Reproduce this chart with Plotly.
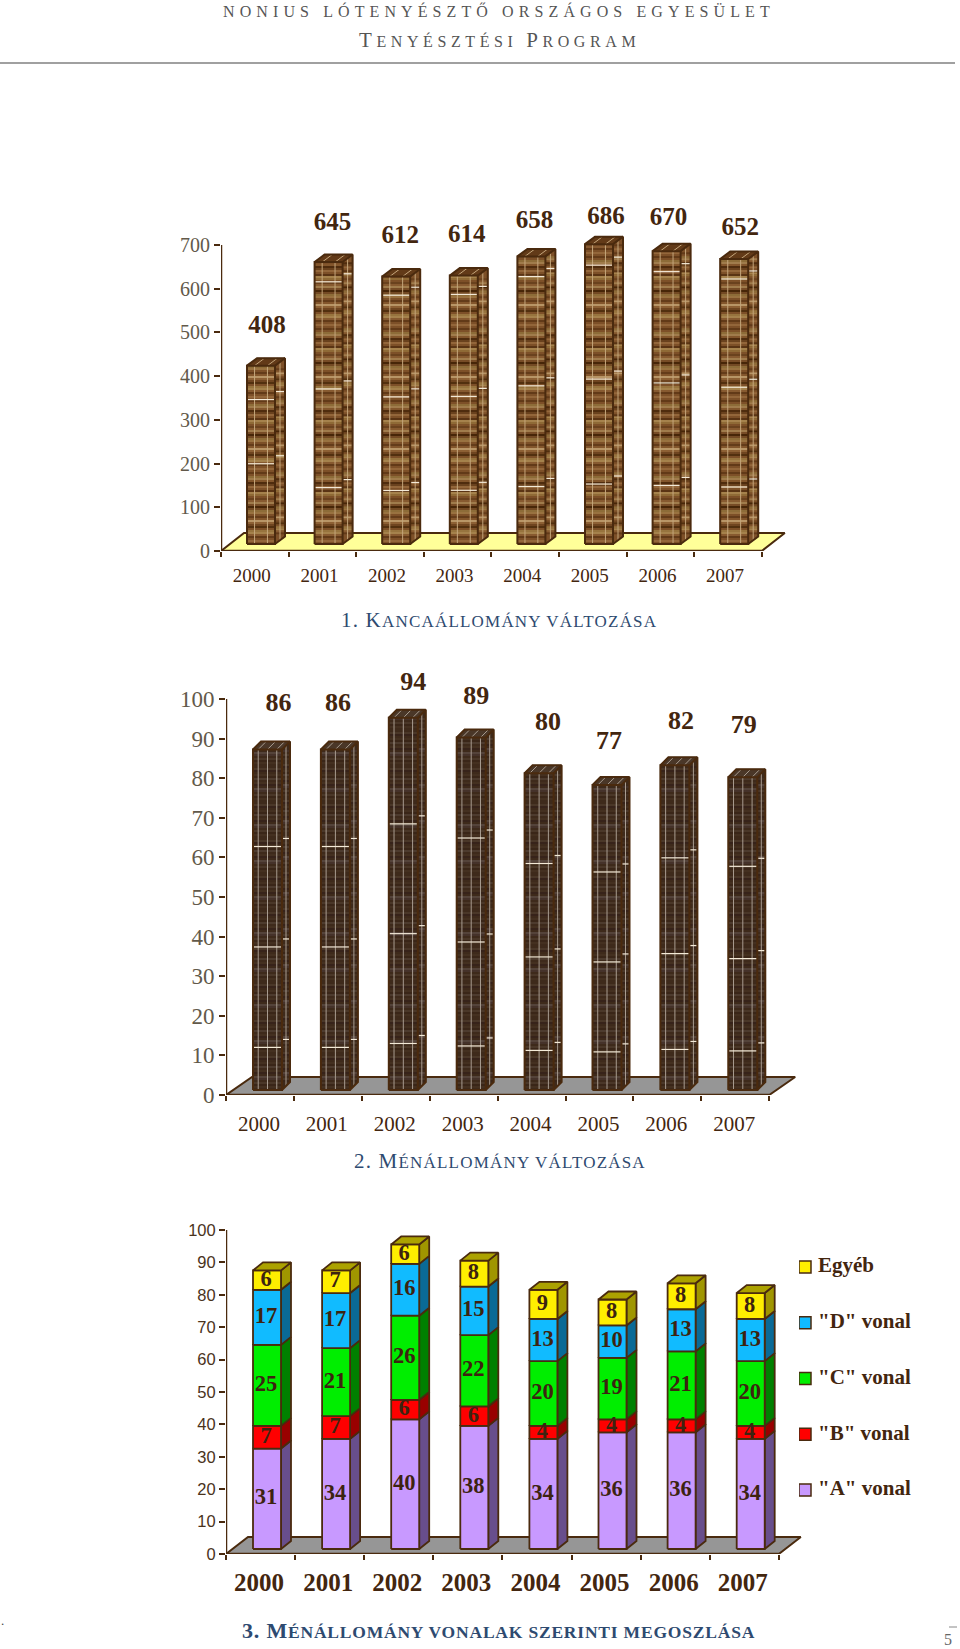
import plotly.graph_objects as go

W, H = 960, 1649
YEARS = ["2000", "2001", "2002", "2003", "2004", "2005", "2006", "2007"]

# --- data ---
MARES = [408, 645, 612, 614, 658, 686, 670, 652]
STALLIONS = [86, 86, 94, 89, 80, 77, 82, 79]
LINE_A = [31, 34, 40, 38, 34, 36, 36, 34]
LINE_B = [7, 7, 6, 6, 4, 4, 4, 4]
LINE_C = [25, 21, 26, 22, 20, 19, 21, 20]
LINE_D = [17, 17, 16, 15, 13, 10, 13, 13]
OTHER = [6, 7, 6, 8, 9, 8, 8, 8]
SERIES_NAMES = ['"A" vonal', '"B" vonal', '"C" vonal', '"D" vonal', 'Egyéb']

# --- hand placed value labels in the original (pixel nudges) ---
MARE_LABEL_DX = [6, 4, 4, 3, 3, 7, 2, 6]
MARE_LABEL_UP = [31, 31, 32, 32, 27, 19, 25, 23]
STAL_LABEL_DX = [11, 2.5, 10, 5, 9, 2, 6, 1]
STAL_LABEL_UP = [37, 37, 26, 32, 42, 35, 35, 43]

# --- styles ---
EDGE = "#4a2a0e"
TXT = "#43260f"
TITLE = "#2e4a70"
SERIF = "Liberation Serif"
SANS = "Liberation Sans"
WOOD1 = ["#7d5028", "#93663a", "#7d5028", "#623a18", "#875a30", "#a5824c", "#97743e", "#7d5028",
         "#52300f", "#6f4520", "#8d6034", "#b89566", "#83562c", "#643c1a", "#7d5028", "#997240",
         "#8d6c38", "#734a24", "#472608", "#774c26", "#a07c4c", "#875a30", "#6a421e", "#7d5028",
         "#8f6a36", "#a5824c", "#5a3414", "#7d5028", "#93663a", "#6a421e", "#4f2c0e", "#83562c",
         "#a07c4c", "#8d6c38", "#7d5028", "#623a18"]
WOOD2 = ["#3e2a1b", "#443020", "#3a2618", "#4a3728", "#3e2a1b", "#45322a", "#54433a", "#3e2a1b",
         "#37231a", "#443020", "#3e2a1b", "#4d3b2e", "#3a2618", "#443020", "#3e2a1b", "#37231a",
         "#4a3728", "#3e2a1b"]
FRONT = ["#c899ff", "#ff0000", "#00ee00", "#11bbff", "#ffee00"]
SIDE = ["#684e8c", "#990000", "#008000", "#0a6a96", "#a09600"]
TOP_OTHER = "#aca200"

fig = go.Figure()
layout_axes = {}


def add_chart(n, x0, catw, y0, scale, ytop, floor_d, floor_col, yticks, ytickfont, xtickfont,
              label_off, xstandoff):
    xname, yname = ("x", "y") if n == 1 else (f"x{n}", f"y{n}")
    xmax = 8 + (floor_d[0] + 3) / catw
    ymax = (y0 - ytop) / scale
    layout_axes[f"xaxis{n}"] = dict(
        domain=[x0 / W, (x0 + xmax * catw) / W], range=[0, xmax], anchor=yname,
        showgrid=False, zeroline=False, showline=False,
        tickmode="array", tickvals=[i + 0.5 + label_off / catw for i in range(8)], ticktext=YEARS,
        ticks="", tickfont=xtickfont, ticklabelstandoff=xstandoff,
        minor=dict(tickmode="array", tickvals=list(range(9)), ticks="outside",
                   ticklen=5, tickwidth=2, tickcolor=EDGE, showgrid=False),
    )
    layout_axes[f"yaxis{n}"] = dict(
        domain=[1 - y0 / H, 1 - ytop / H], range=[0, ymax], anchor=xname,
        showgrid=False, zeroline=False, showline=False,
        tickmode="array", tickvals=yticks, ticks="outside", ticklen=6, tickwidth=2, tickcolor=EDGE,
        tickfont=ytickfont,
    )
    fx = lambda c, px=0: c + px / catw
    fy = lambda v, px=0: v + px / scale

    def poly(xs, ys, fill, line=EDGE, lw=2):
        fig.add_trace(go.Scatter(x=xs, y=ys, xaxis=xname, yaxis=yname, mode="lines", fill="toself",
                                 fillcolor=fill, line=dict(color=line, width=lw), hoverinfo="skip",
                                 showlegend=False))

    # floor
    dx, dy = floor_d
    poly([fx(0), fx(8), fx(8, dx), fx(0, dx), fx(0)], [0, 0, fy(0, dy), fy(0, dy), 0], floor_col)
    # axis lines
    fig.add_trace(go.Scatter(x=[0, 0, 8], y=[yticks[-1], 0, 0], xaxis=xname, yaxis=yname, mode="lines",
                             line=dict(color=EDGE, width=2.5), hoverinfo="skip", showlegend=False))
    return fx, fy, xname, yname, poly


def lines(xs, ys, xname, yname, col, lw):
    fig.add_trace(go.Scatter(x=xs, y=ys, xaxis=xname, yaxis=yname, mode="lines",
                             line=dict(color=col, width=lw), hoverinfo="skip", showlegend=False))


def textured_chart(n, values, x0, catw, y0, scale, ytop, floor_d, floor_col, yticks, ytickfont, xtickfont,
                   label_off, xstandoff, bar_left, bar_w, side, base, wood, vfracs, vcol, hl_fracs,
                   lab_dx, lab_up, labsize):
    fx, fy, xn, yn, poly = add_chart(n, x0, catw, y0, scale, ytop, floor_d, floor_col, yticks,
                                     ytickfont, xtickfont, label_off, xstandoff)
    sdx, sdy = side
    buckets = {c: ([], []) for c in wood}
    vx, vy, hx, hy = [], [], [], []
    for i, v in enumerate(values):
        L, R = fx(i, bar_left), fx(i, bar_left + bar_w)
        R2 = fx(i, bar_left + bar_w + sdx)
        B, T = fy(0, base), fy(v, base)
        # base faces
        poly([L, R, R, L, L], [B, B, T, T, B], wood[0], wood[0], 0.5)
        poly([R, R2, R2, R, R], [B, fy(0, base + sdy), fy(v, base + sdy), T, B], wood[0], wood[0], 0.5)
        poly([L, R, R2, fx(i, bar_left + sdx), L],
             [T, T, fy(v, base + sdy), fy(v, base + sdy), T], wood[3], wood[3], 0.5)
        # stripe rows: straight across the front, level across the side
        h = v * scale
        rows = int(h / 2)
        for k in range(rows):
            c = wood[k % len(wood)]
            up = 2 * k + 1
            yy = fy(0, base + up)
            buckets[c][0].extend([L, R, None])
            buckets[c][1].extend([yy, yy, None])
            if sdy / 2 <= up <= h - sdy / 2:
                ys = fy(0, base + up + sdy / 2)
                buckets[c][0].extend([R, R2, None])
                buckets[c][1].extend([ys, ys, None])
        for f in vfracs:
            xv = fx(i, bar_left + bar_w * f)
            vx += [xv, xv, None]
            vy += [B, T, None]
            vx += [xv, fx(i, bar_left + bar_w * f + sdx), None]
            vy += [T, fy(v, base + sdy), None]
        xs_mid = fx(i, bar_left + bar_w + sdx * 0.5)
        vx += [xs_mid, xs_mid, None]
        vy += [fy(0, base + sdy * 0.5), fy(v, base + sdy * 0.5), None]
        for f in (hl_fracs[i] if isinstance(hl_fracs[0], list) else hl_fracs):
            yh = T - f * (T - B)
            hx += [L, R, None, R, R2, None]
            hy += [yh, yh, None, yh + 8 / scale, yh + 8 / scale, None]
    for c, (bx, by) in buckets.items():
        lines(bx, by, xn, yn, c, 2)
    lines(vx, vy, xn, yn, vcol, 1)
    lines(hx, hy, xn, yn, "#f4ead8", 1.2)
    # outlines
    for i, v in enumerate(values):
        L, R = fx(i, bar_left), fx(i, bar_left + bar_w)
        R2, L2 = fx(i, bar_left + bar_w + sdx), fx(i, bar_left + sdx)
        B, T, B2, T2 = fy(0, base), fy(v, base), fy(0, base + sdy), fy(v, base + sdy)
        lines([L, R, R, L, L, None, R, R2, R2, R, None, L, L2, R2],
              [B, B, T, T, B, None, B, B2, T2, T, None, T, T2, T2], xn, yn, EDGE, 2)
    # labels
    fig.add_trace(go.Scatter(
        x=[fx(i, bar_left + bar_w / 2 + lab_dx[i]) for i in range(8)],
        y=[fy(values[i], base + sdy + lab_up[i]) for i in range(8)],
        text=[str(v) for v in values], mode="text", textposition="middle center",
        xaxis=xn, yaxis=yn, cliponaxis=False, hoverinfo="skip", showlegend=False,
        textfont=dict(family=SERIF, size=labsize, color=TXT, weight="bold")))


# chart 1
textured_chart(1, MARES, 221, 67.6, 551, 0.4371, 195, (23, 18), "#ffff99",
               list(range(0, 701, 100)), dict(family=SERIF, size=20, color="#62594a"),
               dict(family=SERIF, size=19, color=TXT, weight="normal"), -3, 11,
               26, 28, (10, 7.5), 7, WOOD1, [0.27, 0.73], "#c4a67c",
               [[.19, .55], [.07, .45, .8], [.07, .45, .8], [.07, .45, .8], [.07, .45, .8],
                [.07, .45, .8], [.07, .45, .8], [.07, .45, .8]],
               MARE_LABEL_DX, MARE_LABEL_UP, 25)

# chart 2
textured_chart(2, STALLIONS, 226, 67.9, 1095, 3.96, 665, (26, 18), "#969696",
               list(range(0, 101, 10)), dict(family=SERIF, size=23, color="#62594a"),
               dict(family=SERIF, size=21, color=TXT, weight="normal"), -1, 14,
               27, 29, (8, 8), 5, WOOD2, [0.18, 0.5, 0.82], "#a89c90",
               [.285, .58, .875], STAL_LABEL_DX, STAL_LABEL_UP, 26)

# chart 3
fx, fy, xn, yn, poly = add_chart(3, 226, 69.1, 1554, 3.24, 1185, (22, 17), "#969696",
                                 list(range(0, 101, 10)), dict(family=SANS, size=16.5, color="#4a331c"),
                                 dict(family=SERIF, size=25, color=TXT, weight="bold"), -1.5, 11)
STACK = [LINE_A, LINE_B, LINE_C, LINE_D, OTHER]
BL, BW, SDX, SDY, BASE3 = 27, 28, 10, 8, 5
lab_x, lab_y, lab_t = [], [], []
for s, vals in enumerate(STACK):
    fxs, fys, sxs, sys_ = [], [], [], []
    for i in range(8):
        low = sum(STACK[k][i] for k in range(s))
        hi = low + vals[i]
        L, R, R2 = fx(i, BL), fx(i, BL + BW), fx(i, BL + BW + SDX)
        fxs += [L, R, R, L, L, None]
        fys += [fy(low, BASE3), fy(low, BASE3), fy(hi, BASE3), fy(hi, BASE3), fy(low, BASE3), None]
        sxs += [R, R2, R2, R, R, None]
        sys_ += [fy(low, BASE3), fy(low, BASE3 + SDY), fy(hi, BASE3 + SDY), fy(hi, BASE3), fy(low, BASE3), None]
        lab_x.append(fx(i, BL + BW / 2 - 1))
        lab_y.append(fy((low + hi) / 2, BASE3))
        lab_t.append(str(vals[i]))
    poly(sxs, sys_, SIDE[s], EDGE, 1.8)
    poly(fxs, fys, FRONT[s], EDGE, 1.8)
txs, tys = [], []
for i in range(8):
    tot = sum(col[i] for col in STACK)
    L, R, R2, L2 = fx(i, BL), fx(i, BL + BW), fx(i, BL + BW + SDX), fx(i, BL + SDX)
    txs += [L, R, R2, L2, L, None]
    tys += [fy(tot, BASE3), fy(tot, BASE3), fy(tot, BASE3 + SDY), fy(tot, BASE3 + SDY), fy(tot, BASE3), None]
poly(txs, tys, TOP_OTHER, EDGE, 1.8)
fig.add_trace(go.Scatter(x=lab_x, y=lab_y, text=lab_t, mode="text", xaxis=xn, yaxis=yn, cliponaxis=False,
                         hoverinfo="skip", showlegend=False,
                         textfont=dict(family=SERIF, size=22.5, color="#3d2310", weight="bold")))

# legend drawn as a small scatter on its own axes
layout_axes["xaxis4"] = dict(domain=[799 / W, 959 / W], range=[0, 160], visible=False, anchor="y4")
layout_axes["yaxis4"] = dict(domain=[1 - 1518 / H, 1 - 1239 / H], range=[-0.5, 4.5], visible=False, anchor="x4")
fig.add_trace(go.Scatter(x=[6] * 5, y=list(range(5)), xaxis="x4", yaxis="y4", mode="markers",
                         marker=dict(symbol="square", size=12, color=FRONT, line=dict(color=EDGE, width=1.5)),
                         hoverinfo="skip", showlegend=False))
fig.add_trace(go.Scatter(x=[19] * 5, y=list(range(5)), xaxis="x4", yaxis="y4", mode="text",
                         text=SERIES_NAMES, textposition="middle right", cliponaxis=False,
                         textfont=dict(family=SERIF, size=21, color=TXT, weight="bold"),
                         hoverinfo="skip", showlegend=False))


def caption(cx, cy, big1, small1, big2="", small2="", bs=19, ss=15, col=TITLE, spacing=0, bold=False):
    sp = f"letter-spacing:{spacing}px;" if spacing else ""
    t = f'<span style="font-size:{bs}px;{sp}">{big1}</span><span style="font-size:{ss}px;{sp}">{small1}</span>'
    if big2:
        t += f'<span style="font-size:{bs}px;{sp}">{big2}</span><span style="font-size:{ss}px;{sp}">{small2}</span>'
    if bold:
        t = f"<b>{t}</b>"
    fig.add_annotation(x=cx / W, y=1 - cy / H, xref="paper", yref="paper", showarrow=False, text=t,
                       xanchor="center", yanchor="middle", font=dict(family=SERIF, color=col, size=ss))


caption(499, 11, "", "NONIUS LÓTENYÉSZTŐ ORSZÁGOS EGYESÜLET", bs=16, ss=16, col="#555555", spacing=5.1)
caption(499, 40, "T", "ENYÉSZTÉSI ", "P", "ROGRAM", bs=21, ss=16, col="#555555", spacing=4.6)
caption(499, 620, "1. K", "ANCAÁLLOMÁNY VÁLTOZÁSA", bs=21, ss=17, spacing=1.2)
caption(500, 1161, "2. M", "ÉNÁLLOMÁNY VÁLTOZÁSA", bs=21, ss=17, spacing=1.2)
caption(498, 1630, "3. M", "ÉNÁLLOMÁNY VONALAK SZERINTI MEGOSZLÁSA", bs=22, ss=17.5, spacing=0.8, bold=True)
fig.add_annotation(x=953 / W, y=0, xref="paper", yref="paper", showarrow=False, text="5", yanchor="bottom",
                   borderpad=0, font=dict(family=SERIF, size=16, color="#666666"))
fig.add_annotation(x=0, y=1 - 1629 / H, xref="paper", yref="paper", showarrow=False, text=".", xanchor="left",
                   borderpad=0, font=dict(family=SERIF, size=13, color="#444444"))

fig.update_layout(
    width=W, height=H, margin=dict(l=0, r=0, t=0, b=0, autoexpand=False), autosize=False,
    paper_bgcolor="white", plot_bgcolor="rgba(0,0,0,0)", showlegend=False,
    shapes=[dict(type="line", xref="paper", yref="paper", x0=0, x1=955 / W, y0=1 - 63 / H, y1=1 - 63 / H,
                 line=dict(color="#808080", width=1.5)),
            dict(type="line", xref="paper", yref="paper", x0=949 / W, x1=957 / W, y0=1 - 1627 / H, y1=1 - 1627 / H,
                 line=dict(color="#888888", width=1))],
    **layout_axes,
)
fig.write_html("out.html", config={"displayModeBar": False}, post_script="document.body.style.margin='0';")
